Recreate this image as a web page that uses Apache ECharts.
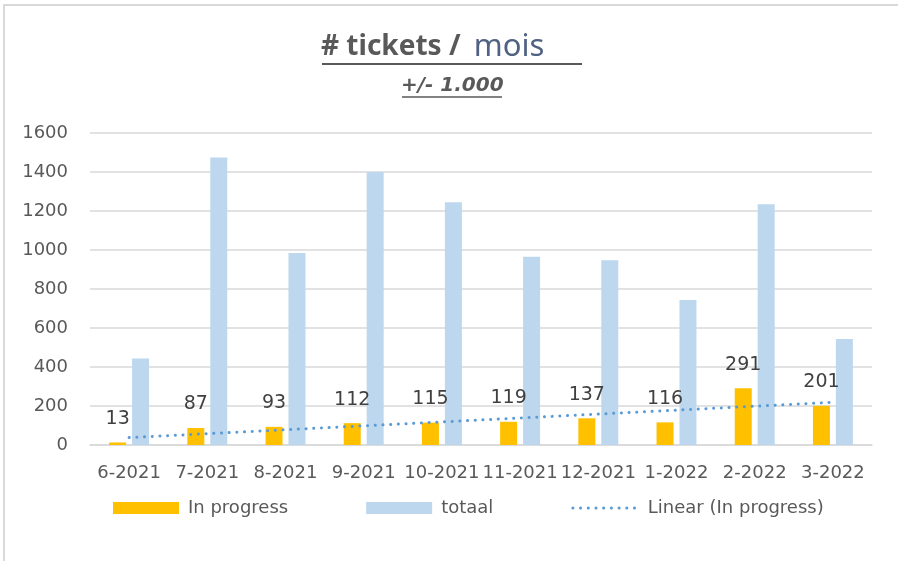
<!DOCTYPE html>
<html>
<head>
<meta charset="utf-8">
<script src="https://cdn.jsdelivr.net/npm/echarts@6/dist/echarts.min.js"></script>
<style>
    body { margin: 0; background: #fff; overflow: hidden; }
    #frame { position: absolute; left: 3px; top: 4px; width: 1000px; height: 600px; border: 2px solid #d9d9d9; }
    #chart { position: absolute; left: 0; top: 0; width: 898px; height: 561px; }
</style>
</head>
<body>
<div id="frame"></div>
<div id="chart"></div>
<script>
// mois
var months = ['6-2021', '7-2021', '8-2021', '9-2021', '10-2021', '11-2021', '12-2021', '1-2022', '2-2022', '3-2022'];
// tickets en cours
var inProgress = [13, 87, 93, 112, 115, 119, 137, 116, 291, 201];
// total tickets
var totaal = [443, 1475, 985, 1400, 1245, 965, 947, 744, 1234, 544];
// tendance lineaire: debut et fin
var trendEnds = [38, 219];
var yTicks = [0, 200, 400, 600, 800, 1000, 1200, 1400, 1600];

var trendData = months.map(function (m, i) {
    if (i === 0) return trendEnds[0];
    if (i === months.length - 1) return trendEnds[1];
    return null;
});

var textColor = '#595959';
var font = 'DejaVu Sans';
var titleFont = 'Noto Sans';
var dotted = { color: '#5b9bd5', width: 3, type: [0.1, 7.6], cap: 'round' };

var chart = echarts.init(document.getElementById('chart'));
var option = {
    animation: false,
    textStyle: { fontFamily: font },
    title: [
        {
            left: 321,
            top: 32,
            padding: 0,
            text: '{a|# tickets /} {b|mois}',
            textStyle: {
                rich: {
                    a: { fontFamily: titleFont, fontSize: 28, fontWeight: 'bold', color: textColor },
                    b: { fontFamily: titleFont, fontSize: 31, fontWeight: 'normal', color: '#4f6283', padding: [0, 0, 0, 7] }
                }
            }
        },
        {
            left: 401,
            top: 76,
            padding: 0,
            text: '+/- 1.000',
            textStyle: { fontFamily: font, fontSize: 20, fontWeight: 'bold', fontStyle: 'italic', color: textColor }
        }
    ],
    // soulignement du titre
    graphic: [
        { type: 'line', shape: { x1: 322, y1: 64, x2: 582, y2: 64 }, style: { stroke: textColor, lineWidth: 2 } },
        { type: 'line', shape: { x1: 402, y1: 97, x2: 502, y2: 97 }, style: { stroke: textColor, lineWidth: 1.5 } }
    ],
    legend: {
        left: 113,
        top: 499,
        padding: 0,
        itemWidth: 66,
        itemHeight: 12,
        itemGap: 78,
        textStyle: { fontFamily: font, fontSize: 18, color: textColor, padding: [0, 0, 0, 4] },
        data: [
            { name: 'In progress', icon: 'rect' },
            { name: 'totaal', icon: 'rect' },
            { name: 'Linear (In progress)', itemStyle: { color: 'rgba(0,0,0,0)', borderWidth: 0 }, lineStyle: dotted }
        ]
    },
    grid: {
        left: 90,
        right: 26,
        top: 133,
        bottom: 116
    },
    xAxis: {
        type: 'category',
        data: months,
        axisTick: { show: false },
        axisLine: { lineStyle: { color: '#d9d9d9', width: 1.5 } },
        axisLabel: {
            interval: 0,
            hideOverlap: false,
            color: textColor,
            fontFamily: font,
            fontSize: 18,
            margin: 19
        }
    },
    yAxis: {
        type: 'value',
        min: yTicks[0],
        max: yTicks[yTicks.length - 1],
        interval: 200,
        axisLine: { show: false },
        axisTick: { show: false },
        axisLabel: {
            color: textColor,
            fontFamily: font,
            fontSize: 18,
            margin: 22,
            formatter: function (v) { return String(v); }
        },
        splitLine: { lineStyle: { color: '#d9d9d9', width: 1.5 } }
    },
    series: [
        {
            name: 'In progress',
            type: 'bar',
            barWidth: 17,
            barGap: '35%',
            itemStyle: { color: '#ffc000' },
            label: {
                show: true,
                position: 'top',
                distance: 14,
                color: '#404040',
                fontFamily: font,
                fontSize: 19
            },
            data: inProgress
        },
        {
            name: 'totaal',
            type: 'bar',
            barWidth: 17,
            itemStyle: { color: '#bdd7ee' },
            data: totaal
        },
        {
            name: 'Linear (In progress)',
            type: 'line',
            symbol: 'none',
            connectNulls: true,
            z: 5,
            itemStyle: { color: '#5b9bd5' },
            lineStyle: dotted,
            data: trendData
        }
    ]
};
chart.setOption(option);
</script>
</body>
</html>
